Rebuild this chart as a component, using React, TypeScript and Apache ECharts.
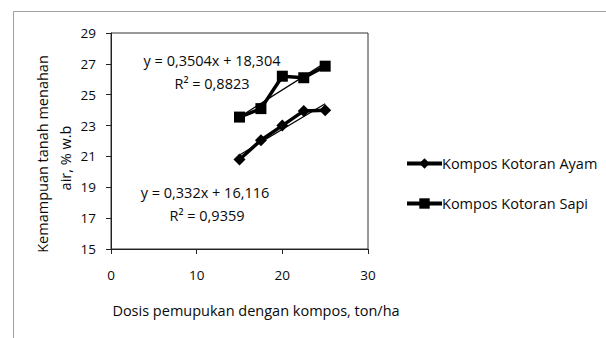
import React, { useEffect, useRef } from "react";
import * as echarts from "echarts";

const doses = [15, 17.5, 20, 22.5, 25];
const ayam = [20.8, 22.05, 23.0, 23.95, 24.0];
const sapi = [23.55, 24.1, 26.2, 26.1, 26.85];
const seriesNames = ["Kompos Kotoran Ayam", "Kompos Kotoran Sapi"];
const slopes = [0.332, 0.3504];
const intercepts = [16.116, 18.304];
const eqTexts = ["y = 0,332x + 16,116", "y = 0,3504x + 18,304"];
const r2Texts = ["R² = 0,9359", "R² = 0,8823"];
const xTicks = [0, 10, 20, 30];
const yTitle = ["Kemampuan tanah menahan", "air, % w.b"];
const xTitle = "Dosis pemupukan dengan kompos, ton/ha";

const FONT = "'Open Sans', sans-serif";
const TXT = "#0a0a0a";
const FS = 14.5;

export default function App() {
  const ref = useRef<HTMLDivElement>(null);
  useEffect(() => {
    if (!ref.current) return;
    const chart = echarts.init(ref.current, null, { renderer: "svg" });
    const trend = (i: number) => {
      const x0 = doses[0];
      const x1 = doses[doses.length - 1];
      return [
        [x0, slopes[i] * x0 + intercepts[i]],
        [x1, slopes[i] * x1 + intercepts[i]],
      ];
    };
    const txt = (text: string, x: number, y: number, rot = 0) => ({
      type: "text",
      x,
      y,
      rotation: rot,
      style: { text, font: `${FS}px ${FONT}`, fill: TXT, textAlign: "center", textVerticalAlign: "middle" },
    });
    chart.setOption({
      animation: false,
      backgroundColor: "#fff",
      textStyle: { fontFamily: FONT },
      grid: {
        left: 111,
        top: 33,
        right: 238,
        bottom: 89,
        show: true,
        borderColor: "#333",
        borderWidth: 1,
      },
      xAxis: {
        type: "value",
        min: xTicks[0],
        max: xTicks[xTicks.length - 1],
        interval: 10,
        splitLine: { show: false },
        axisLine: { show: true, lineStyle: { color: "#222", width: 1 } },
        axisTick: { show: true, inside: false, length: 5, lineStyle: { color: "#222" } },
        axisLabel: { color: TXT, fontSize: 13.5, margin: 19, fontFamily: FONT },
      },
      yAxis: {
        type: "value",
        min: 15,
        max: 29,
        interval: 2,
        splitLine: { show: false },
        axisLine: { show: true, lineStyle: { color: "#222", width: 1 } },
        axisTick: { show: true, inside: false, length: 5, lineStyle: { color: "#222" } },
        axisLabel: { color: TXT, fontSize: 13.5, margin: 15, fontFamily: FONT },
      },
      legend: {
        orient: "vertical",
        left: 400,
        top: 151,
        itemWidth: 35,
        itemHeight: 13,
        itemGap: 25,
        data: seriesNames,
        lineStyle: { width: 4 },
        textStyle: { color: TXT, fontSize: FS, fontFamily: FONT, padding: [0, 0, 0, -5] },
      },
      series: [
        {
          name: seriesNames[0],
          type: "line",
          data: doses.map((d, i) => [d, ayam[i]]),
          symbol: "diamond",
          symbolSize: 12,
          itemStyle: { color: "#000" },
          lineStyle: { color: "#000", width: 3.5 },
        },
        {
          name: seriesNames[1],
          type: "line",
          data: doses.map((d, i) => [d, sapi[i]]),
          symbol: "rect",
          symbolSize: 11,
          itemStyle: { color: "#000" },
          lineStyle: { color: "#000", width: 3.5 },
        },
        {
          name: "trend0",
          type: "line",
          data: trend(0),
          symbol: "none",
          lineStyle: { color: "#000", width: 1.2 },
          z: 3,
        },
        {
          name: "trend1",
          type: "line",
          data: trend(1),
          symbol: "none",
          lineStyle: { color: "#000", width: 1.2 },
          z: 3,
        },
      ],
      graphic: [
        { type: "line", shape: { x1: 13.5, y1: 11.5, x2: 620, y2: 11.5 }, style: { stroke: "#a0a0a0", lineWidth: 1 } },
        { type: "line", shape: { x1: 13.5, y1: 11.5, x2: 13.5, y2: 360 }, style: { stroke: "#a0a0a0", lineWidth: 1 } },
        txt(eqTexts[1], 212, 60),
        txt(r2Texts[1], 212, 83),
        txt(eqTexts[0], 205, 192),
        txt(r2Texts[0], 207, 215),
        txt(xTitle, 256, 310),
        txt(yTitle[0], 42, 154, Math.PI / 2),
        txt(yTitle[1], 65, 158, Math.PI / 2),
      ],
    });
    return () => chart.dispose();
  }, []);
  return (
    <div
      ref={ref}
      style={{ position: "fixed", left: 0, top: 0, width: 606, height: 338, background: "#fff" }}
    />
  );
}
